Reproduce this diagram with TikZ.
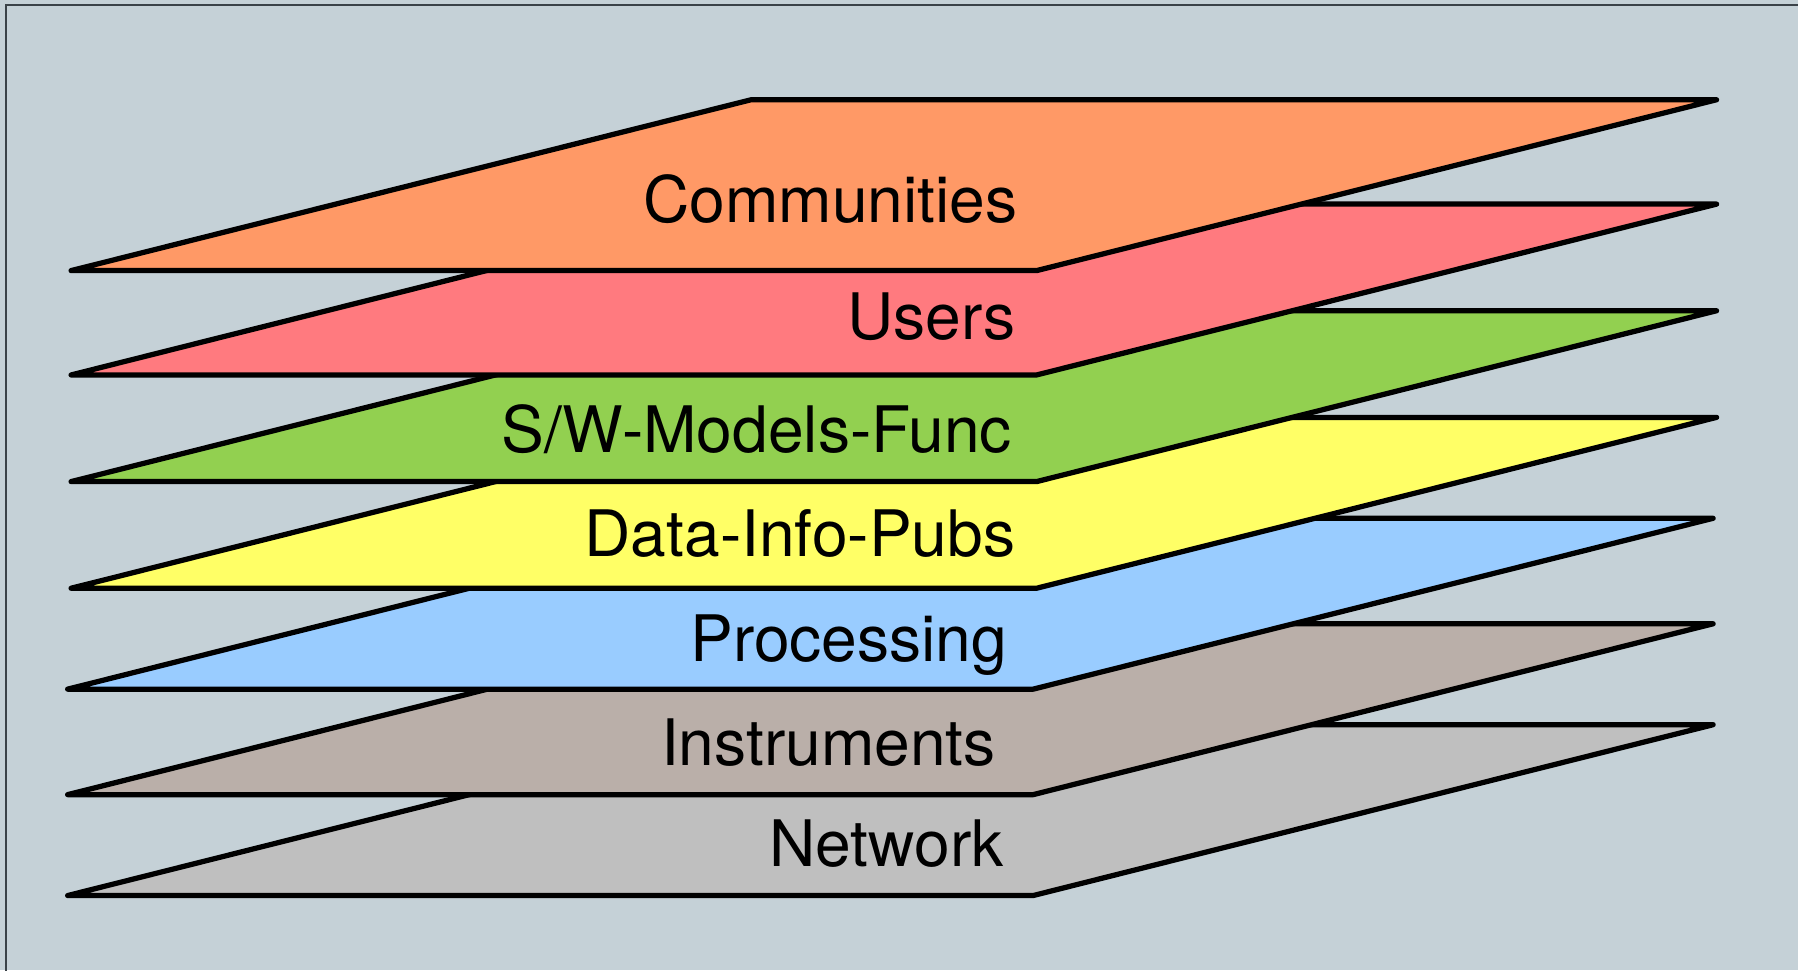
\documentclass[tikz,border=0pt]{standalone}
\usepackage{fontspec}
\setmainfont{TeX Gyre Heros}
\usetikzlibrary{positioning}
\definecolor{bgblue}{HTML}{C5D1D7}
\definecolor{framegrey}{HTML}{3A4248}
\definecolor{commorange}{HTML}{FF9966}
\definecolor{userred}{HTML}{FF7A7F}
\definecolor{swgreen}{HTML}{92D050}
\definecolor{datayellow}{HTML}{FFFF66}
\definecolor{procblue}{HTML}{99CCFF}
\definecolor{insttaupe}{HTML}{BAAFA9}
\definecolor{netgrey}{HTML}{BFBFBF}

\begin{document}
\begin{tikzpicture}[%
      x=0.01cm, y=-0.01cm,
      every node/.style={inner sep=0pt, font=\fontsize{15.9}{18}\selectfont},
      layer/.style={draw=black, line width=1.3pt, line join=round},
    ]
    \useasboundingbox (0,0) rectangle (1568,846);
    \fill[bgblue] (0,0) rectangle (1568,846);
    \draw[framegrey, line width=0.5pt] (5,4) rectangle (1590,860);

    % layers, bottom one first so each upper one covers the one below
    \foreach \name/\col/\x/\y/\tx/\ty [count=\i] in {%
        Network/netgrey/59/781/876/756,
        Instruments/insttaupe/59/693/869/668,
        Processing/procblue/59/601/879/577,
        Data-Info-Pubs/datayellow/62/513/886/485,
        {S/W-Models-Func}/swgreen/62/420/883/395,
        Users/userred/62/327/886/296,
        Communities/commorange/62/236/888/194}
    {
        \draw[layer, fill=\col] (\x,\y) -- ++(842,0) -- ++(593,-149) -- ++(-842,0) -- cycle;
        \node (l\i) [anchor=base east] at (\tx,\ty) {\name};
    }
\end{tikzpicture}
\end{document}
